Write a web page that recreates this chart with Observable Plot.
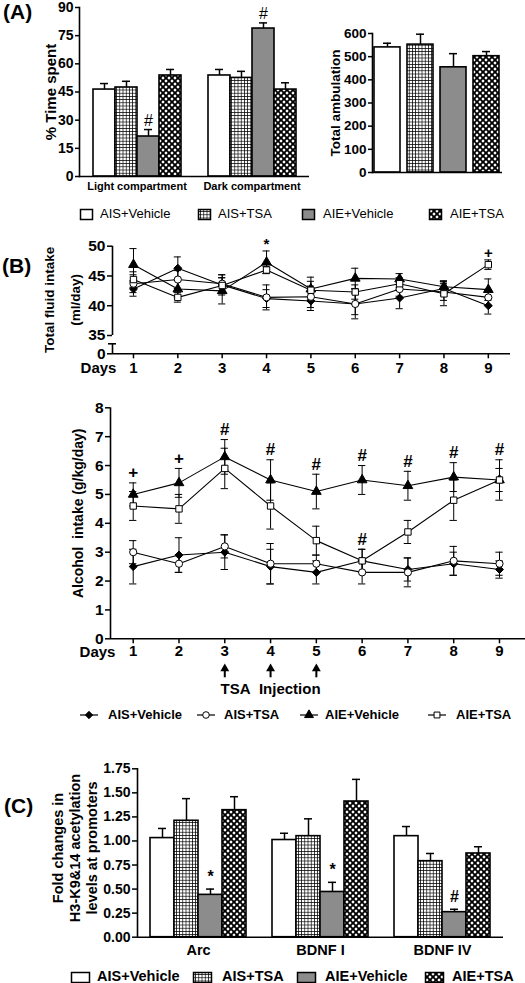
<!DOCTYPE html>
<html><head><meta charset="utf-8">
<script src="https://cdn.jsdelivr.net/npm/d3@7"></script>
<script src="https://cdn.jsdelivr.net/npm/@observablehq/plot@0.6"></script>
<style>
html,body{margin:0;padding:0;background:#fff;}
#page{position:relative;width:525px;height:983px;overflow:hidden;font-family:'Liberation Sans',Arial,sans-serif;color:#000;background:#fff;}
.plab{position:absolute;font-size:21px;font-weight:bold;line-height:1;}
.ltxt{position:absolute;white-space:nowrap;line-height:1;}
.lsw{position:absolute;}
</style></head><body>
<div id="page">
<svg width="0" height="0" style="position:absolute">
 <defs>
  <pattern id="pGrid" width="3.2" height="3.2" patternUnits="userSpaceOnUse">
    <rect width="3.2" height="3.2" fill="#fff"/>
    <path d="M0 0.35H3.2M0.35 0V3.2" stroke="#000" stroke-width="0.75"/>
  </pattern>
  <pattern id="pDots" width="6" height="6" patternUnits="userSpaceOnUse">
    <rect width="6" height="6" fill="#000"/>
    <path d="M0 -1.7L1.7 0L0 1.7L-1.7 0Z M6 -1.7L7.7 0L6 1.7L4.3 0Z M0 4.3L1.7 6L0 7.7L-1.7 6Z M6 4.3L7.7 6L6 7.7L4.3 6Z M3 1.3L4.7 3L3 4.7L1.3 3Z" fill="#fff"/>
  </pattern>
 </defs>
</svg>
</div>
<script>
// ---------- data ----------
const seriesNames = ["AIS+Vehicle", "AIS+TSA", "AIE+Vehicle", "AIE+TSA"];

// Panel A
const compartments = ["Light compartment", "Dark compartment"];
const timeLight = [46.3, 47.4, 21.3, 53.8];
const timeLightErr = [3.2, 3.3, 3.7, 3.2];
const timeLightSig = ["", "", "#", ""];
const timeDark = [53.8, 52.5, 78.8, 46.3];
const timeDarkErr = [3.2, 3.5, 3.0, 3.6];
const timeDarkSig = ["", "", "#", ""];
const timeTicks = [0, 15, 30, 45, 60, 75, 90];
const ambulation = [540, 552, 454, 502];
const ambulationErr = [18, 45, 59, 20];
const ambulationTicks = [0, 100, 200, 300, 400, 500, 600];

// Panel B
const days = [1, 2, 3, 4, 5, 6, 7, 8, 9];
const fluidAISVehicle = [42.8, 46.3, 43.5, 41.2, 40.8, 40.3, 41.3, 42.9, 40.0];
const fluidAISVehicleErr = [1.2, 1.9, 1.7, 1.5, 1.6, 2.5, 1.8, 1.2, 1.4];
const fluidAISTSA = [43.7, 44.4, 43.7, 41.4, 41.5, 40.3, 42.8, 42.3, 41.4];
const fluidAISTSAErr = [1.5, 1.5, 1.5, 2.1, 1.8, 1.8, 1.2, 1.4, 1.3];
const fluidAIEVehicle = [46.9, 42.8, 42.5, 47.3, 42.8, 44.6, 44.5, 43.2, 42.7];
const fluidAIEVehicleErr = [2.7, 1.5, 2.2, 1.9, 2.0, 1.7, 0.9, 1.0, 1.8];
const fluidAIETSA = [44.4, 41.4, 43.4, 46.0, 42.6, 42.3, 43.7, 42.0, 46.9];
const fluidAIETSAErr = [1.3, 0.8, 1.3, 0.6, 1.5, 1.2, 1.0, 2.0, 0.8];
const fluidTicks = [35, 40, 45, 50];
const fluidZeroLabel = "0";
const fluidSigDays = [4, 9];
const fluidSigSeries = ["AIE+Vehicle", "AIE+TSA"];
const fluidSigMarks = ["*", "+"];

const alcAISVehicle = [2.5, 2.9, 3.0, 2.5, 2.3, 2.7, 2.4, 2.6, 2.4];
const alcAISVehicleErr = [0.6, 0.6, 0.6, 0.6, 0.4, 0.4, 0.4, 0.4, 0.3];
const alcAISTSA = [3.0, 2.6, 3.2, 2.6, 2.6, 2.3, 2.3, 2.7, 2.6];
const alcAISTSAErr = [0.4, 0.3, 0.4, 0.7, 0.3, 0.4, 0.5, 0.5, 0.4];
const alcAIEVehicle = [5.0, 5.4, 6.3, 5.5, 5.1, 5.5, 5.3, 5.6, 5.5];
const alcAIEVehicleErr = [0.4, 0.5, 0.6, 0.7, 0.6, 0.5, 0.5, 0.5, 0.7];
const alcAIETSA = [4.6, 4.5, 5.9, 4.6, 3.4, 2.7, 3.7, 4.8, 5.5];
const alcAIETSAErr = [0.5, 0.5, 0.7, 0.8, 0.5, 0.4, 0.4, 0.7, 0.4];
const alcTicks = [0, 1, 2, 3, 4, 5, 6, 7, 8];
const alcSigDays = [1, 2, 3, 4, 5, 6, 7, 8, 9, 6];
const alcSigSeries = ["AIE+Vehicle","AIE+Vehicle","AIE+Vehicle","AIE+Vehicle","AIE+Vehicle","AIE+Vehicle","AIE+Vehicle","AIE+Vehicle","AIE+Vehicle","AIE+TSA"];
const alcSigMarks = ["+", "+", "#", "#", "#", "#", "#", "#", "#", "#"];
const injectionDays = [3, 4, 5];

// Panel C
const promoters = ["Arc", "BDNF I", "BDNF IV"];
const acetylArc = [1.03, 1.21, 0.44, 1.32];
const acetylArcErr = [0.10, 0.23, 0.06, 0.14];
const acetylArcSig = ["", "", "*", ""];
const acetylBDNF1 = [1.01, 1.05, 0.47, 1.41];
const acetylBDNF1Err = [0.07, 0.18, 0.10, 0.23];
const acetylBDNF1Sig = ["", "", "*", ""];
const acetylBDNF4 = [1.05, 0.79, 0.26, 0.87];
const acetylBDNF4Err = [0.10, 0.08, 0.03, 0.07];
const acetylBDNF4Sig = ["", "", "#", ""];
const acetylTicks = [0, 0.25, 0.5, 0.75, 1.0, 1.25, 1.5, 1.75];

// ---------- styles ----------
const FONT = "'Liberation Sans', Arial, sans-serif";
const seriesFill = ["#fff", "url(#pGrid)", "#8c8c8c", "url(#pDots)"];
const seriesSymbol = ["diamond2", "circle", "triangle", "square"];
const seriesSymbolFill = ["#000", "#fff", "#000", "#fff"];
const baseStyle = {fontFamily: FONT, fontWeight: "bold", fontSize: "14px", color: "#000", background: "none", overflow: "visible"};
const page = document.getElementById("page");
const fillOf = d => seriesFill[seriesNames.indexOf(d.series)];
const symFillOf = d => seriesSymbolFill[seriesNames.indexOf(d.series)];
const lbl = {text: d => d, textAnchor: "middle", lineAnchor: "middle"};

function place(el, left, top) {
  el.style.position = "absolute";
  el.style.left = left + "px";
  el.style.top = top + "px";
  page.appendChild(el);
}
function grouped(groups, vals, errs, sigs) {
  return groups.flatMap((g, gi) => seriesNames.map((s, si) => ({group: g, series: s, value: vals[gi][si], err: errs[gi][si], sig: sigs[gi][si]})));
}
function lines(vals, errs) {
  return seriesNames.flatMap((s, si) => days.map((d, di) => ({series: s, day: d, value: vals[si][di], err: errs[si][di]})));
}
function sigRows(rows, sd, ss, sm) {
  return sd.map((d, i) => {
    const r = rows.find(r => r.day === d && r.series === ss[i]);
    return {day: d, y: r.value + r.err, mark: sm[i]};
  });
}

// ---------- Panel A left ----------
const rowsA = grouped(compartments, [timeLight, timeDark], [timeLightErr, timeDarkErr], [timeLightSig, timeDarkSig]);
const plotA1 = Plot.plot({
  width: 315, height: 200, marginLeft: 78, marginRight: 6, marginTop: 7, marginBottom: 24,
  style: baseStyle,
  fx: {domain: compartments, padding: 0, axis: null},
  x: {domain: seriesNames, paddingInner: 0, paddingOuter: 0.6, axis: null},
  y: {domain: [0, 90], axis: null},
  color: {type: "identity"},
  marks: [
    Plot.ruleX(rowsA, {fx: "group", x: "series", y1: "value", y2: d => d.value + d.err, strokeWidth: 1.5}),
    Plot.tickY(rowsA, {fx: "group", x: "series", y: d => d.value + d.err, insetLeft: 7, insetRight: 7, strokeWidth: 1.5}),
    Plot.barY(rowsA, {fx: "group", x: "series", y: "value", fill: fillOf, stroke: "#000", strokeWidth: 1.6}),
    Plot.ruleY([0], {strokeWidth: 1.6}),
    Plot.frame({anchor: "left", facetAnchor: "left", strokeWidth: 1.6}),
    Plot.text(rowsA.filter(d => d.sig), {fx: "group", x: "series", y: d => d.value + d.err, text: "sig", dy: -9, fontSize: 16, fontWeight: "normal"}),
    Plot.axisY({ticks: timeTicks, tickSize: 4, tickPadding: 2, fontSize: 14, strokeWidth: 1.5, label: null}),
    Plot.axisFx({anchor: "bottom", tickSize: 0, tickPadding: 6, fontSize: 11, label: null}),
    Plot.text(["% Time spent"], {...lbl, frameAnchor: "left", facetAnchor: "left", rotate: -90, dx: -28, fontSize: 15})
  ]
});
place(plotA1, 0, 0);

// ---------- Panel A right ----------
const rowsAmb = seriesNames.map((s, i) => ({series: s, value: ambulation[i], err: ambulationErr[i]}));
const plotA2 = Plot.plot({
  width: 225, height: 200, marginLeft: 72, marginRight: 23, marginTop: 33, marginBottom: 28,
  style: baseStyle,
  x: {domain: seriesNames, paddingInner: 0.2, paddingOuter: 0.05, axis: null},
  y: {domain: [0, 600], axis: null},
  color: {type: "identity"},
  marks: [
    Plot.ruleX(rowsAmb, {x: "series", y1: "value", y2: d => d.value + d.err, strokeWidth: 1.5}),
    Plot.tickY(rowsAmb, {x: "series", y: d => d.value + d.err, insetLeft: 9, insetRight: 9, strokeWidth: 1.5}),
    Plot.barY(rowsAmb, {x: "series", y: "value", fill: fillOf, stroke: "#000", strokeWidth: 1.6}),
    Plot.ruleY([0], {strokeWidth: 1.6}),
    Plot.frame({anchor: "left", strokeWidth: 1.6}),
    Plot.axisY({ticks: ambulationTicks, tickSize: 4, tickPadding: 2, fontSize: 13.5, strokeWidth: 1.5, label: null}),
    Plot.text(["Total ambulation"], {...lbl, frameAnchor: "left", rotate: -90, dx: -37, fontSize: 13.5})
  ]
});
place(plotA2, 300, 0);

// ---------- shared line-chart marks ----------
function lineMarks(rows, capW) {
  return [
    Plot.ruleX(rows, {x: "day", y1: d => d.value - d.err, y2: d => d.value + d.err, strokeWidth: 1}),
    Plot.ruleY(rows, {y: d => d.value + d.err, x1: d => d.day - capW, x2: d => d.day + capW, strokeWidth: 1}),
    Plot.ruleY(rows, {y: d => d.value - d.err, x1: d => d.day - capW, x2: d => d.day + capW, strokeWidth: 1}),
    Plot.line(rows, {x: "day", y: "value", z: "series", stroke: "#000", strokeWidth: 1.1}),
    Plot.dot(rows, {x: "day", y: "value", symbol: "series", fill: symFillOf, stroke: "#000", strokeWidth: 1, r: 3.6})
  ];
}

// ---------- Panel B top (broken axis: 0 | 35–50) ----------
const rowsFluid = lines([fluidAISVehicle, fluidAISTSA, fluidAIEVehicle, fluidAIETSA],
                        [fluidAISVehicleErr, fluidAISTSAErr, fluidAIEVehicleErr, fluidAIETSAErr]);
const xB1 = [0.527, 9.5];
// frame = the 35–50 part; the axis break and the 0 baseline sit `gap` px below it
const B1 = {h: 150, top: 15.7, bottom: 45, gap: 18.3};
const B1fh = B1.h - B1.top - B1.bottom;
const plotB1 = Plot.plot({
  width: 525, height: B1.h, marginLeft: 112, marginRight: 15, marginTop: B1.top, marginBottom: B1.bottom,
  style: baseStyle,
  x: {domain: xB1, axis: null},
  y: {domain: [35, 50], axis: null},
  symbol: {domain: seriesNames, range: seriesSymbol},
  color: {type: "identity"},
  marks: [
    Plot.ruleX([xB1[0]], {y1: 35, y2: 50, strokeWidth: 1.6}),
    Plot.ruleX([xB1[0]], {insetTop: B1fh + B1.gap - 10, insetBottom: -B1.gap, strokeWidth: 1.6}),
    Plot.ruleY([35], {x1: xB1[0] - 0.09, x2: xB1[0] + 0.09, dy: B1.gap - 10, strokeWidth: 1.6}),
    Plot.ruleY([35], {x1: xB1[0] - 0.113, x2: xB1[0], dy: B1.gap, strokeWidth: 1.5}),
    Plot.ruleY([35], {dy: B1.gap, strokeWidth: 1.6}),
    Plot.ruleX(days, {x: d => d, insetTop: B1fh + B1.gap, insetBottom: -(B1.gap + 5), strokeWidth: 1.5}),
    ...lineMarks(rowsFluid, 0.08),
    Plot.text(sigRows(rowsFluid, fluidSigDays, fluidSigSeries, fluidSigMarks), {x: "day", y: "y", text: "mark", dy: -7, fontSize: 15}),
    Plot.axisY({ticks: fluidTicks, tickSize: 5, tickPadding: 2, fontSize: 15.5, strokeWidth: 1.5, label: null}),
    Plot.text([fluidZeroLabel], {text: d => d, frameAnchor: "bottom-left", textAnchor: "end", lineAnchor: "middle", dx: -7, dy: B1.gap, fontSize: 15.5}),
    Plot.text(days, {x: d => d, text: d => String(d), frameAnchor: "bottom", lineAnchor: "middle", dy: B1.gap + 14.7, fontSize: 15}),
    Plot.text(["Days"], {...lbl, frameAnchor: "bottom-left", dx: -14, dy: B1.gap + 14.7, fontSize: 15}),
    Plot.text(["Total fluid intake"], {...lbl, frameAnchor: "left", rotate: -90, dx: -63, dy: 9, fontSize: 13.5}),
    Plot.text(["(ml/day)"], {...lbl, frameAnchor: "left", rotate: -90, dx: -37, dy: 9, fontSize: 13.5})
  ]
});
place(plotB1, 0, 230);

// ---------- Panel B bottom ----------
const rowsAlc = lines([alcAISVehicle, alcAISTSA, alcAIEVehicle, alcAIETSA],
                      [alcAISVehicleErr, alcAISTSAErr, alcAIEVehicleErr, alcAIETSAErr]);
const xB2 = [0.504, 9.568];
const plotB2 = Plot.plot({
  width: 525, height: 305, marginLeft: 110, marginRight: 0, marginTop: 12.3, marginBottom: 61.7,
  style: baseStyle,
  x: {domain: xB2, axis: null},
  y: {domain: [0, 8], axis: null},
  symbol: {domain: seriesNames, range: seriesSymbol},
  color: {type: "identity"},
  marks: [
    Plot.ruleX([xB2[0]], {y1: 0, y2: 8, strokeWidth: 1.6}),
    Plot.ruleY([0], {strokeWidth: 1.6}),
    ...lineMarks(rowsAlc, 0.08),
    Plot.text(sigRows(rowsAlc, alcSigDays, alcSigSeries, alcSigMarks), {x: "day", y: "y", text: "mark", dy: -10, fontSize: 17}),
    Plot.axisY({ticks: alcTicks, tickSize: 5, tickPadding: 2, fontSize: 15.5, strokeWidth: 1.5, label: null}),
    Plot.axisX({ticks: days, tickSize: 5, tickPadding: 2, fontSize: 15, strokeWidth: 1.5, label: null}),
    Plot.text(["Days"], {...lbl, frameAnchor: "bottom-left", dx: -13, dy: 13.7, fontSize: 15}),
    Plot.ruleX(injectionDays, {x: d => d, y1: 0, y2: 0.35, dy: 39, strokeWidth: 2}),
    Plot.dot(injectionDays, {x: d => d, y: 0.35, dy: 40, symbol: "triangle", r: 3.3, fill: "#000", stroke: "none"}),
    Plot.text(["TSA\u00a0\u00a0Injection"], {...lbl, x: d3.mean(injectionDays), frameAnchor: "bottom", dy: 50.7, fontSize: 15}),
    Plot.text(["Alcohol\u00a0 intake (g/kg/day)"], {...lbl, frameAnchor: "left", rotate: -90, dx: -32, dy: -10, fontSize: 14})
  ]
});
place(plotB2, 0, 395);

// ---------- Panel C ----------
const rowsC = grouped(promoters, [acetylArc, acetylBDNF1, acetylBDNF4], [acetylArcErr, acetylBDNF1Err, acetylBDNF4Err], [acetylArcSig, acetylBDNF1Sig, acetylBDNF4Sig]);
const plotC = Plot.plot({
  width: 525, height: 205, marginLeft: 137, marginRight: 22, marginTop: 13.3, marginBottom: 23.3,
  style: baseStyle,
  fx: {domain: promoters, padding: 0, axis: null},
  x: {domain: seriesNames, paddingInner: 0, paddingOuter: 0.45, axis: null},
  y: {domain: [0, 1.75], axis: null},
  color: {type: "identity"},
  marks: [
    Plot.ruleX(rowsC, {fx: "group", x: "series", y1: "value", y2: d => d.value + d.err, strokeWidth: 1.5}),
    Plot.tickY(rowsC, {fx: "group", x: "series", y: d => d.value + d.err, insetLeft: 8, insetRight: 8, strokeWidth: 1.5}),
    Plot.barY(rowsC, {fx: "group", x: "series", y: "value", fill: fillOf, stroke: "#000", strokeWidth: 1.6}),
    Plot.ruleY([0], {strokeWidth: 1.6}),
    Plot.frame({anchor: "left", facetAnchor: "left", strokeWidth: 1.6}),
    Plot.text(rowsC.filter(d => d.sig), {fx: "group", x: "series", y: d => d.value + d.err, text: "sig", dy: -12, fontSize: 16}),
    Plot.axisY({ticks: acetylTicks, tickFormat: d3.format(".2f"), tickSize: 5, tickPadding: 2, fontSize: 14, strokeWidth: 1.5, label: null}),
    Plot.axisFx({anchor: "bottom", tickSize: 0, tickPadding: 8, fontSize: 14.5, label: null}),
    Plot.text(["Fold changes in\nH3-K9&14 acetylation\nlevels at promoters"], {...lbl, frameAnchor: "left", facetAnchor: "left", rotate: -90, dx: -63, dy: -5, lineHeight: 1.2, fontSize: 14.5})
  ]
});
place(plotC, 0, 755);

// ---------- panel labels ----------
[["(A)", 3, 1], ["(B)", 2, 255], ["(C)", 4, 795]].forEach(([t, l, tp]) => {
  const d = document.createElement("div");
  d.className = "plab"; d.textContent = t;
  place(d, l, tp);
});

// ---------- legends ----------
const NS = "http://www.w3.org/2000/svg";
function boxLegend(cy, boxLefts, textLefts, bw, bh, fontSize, weight) {
  seriesNames.forEach((s, i) => {
    const sv = document.createElementNS(NS, "svg");
    sv.setAttribute("width", bw + 3); sv.setAttribute("height", bh + 3);
    sv.setAttribute("class", "lsw");
    const r = document.createElementNS(NS, "rect");
    r.setAttribute("x", 1.5); r.setAttribute("y", 1.5);
    r.setAttribute("width", bw); r.setAttribute("height", bh);
    r.setAttribute("fill", seriesFill[i]); r.setAttribute("stroke", "#000"); r.setAttribute("stroke-width", 1.5);
    sv.appendChild(r);
    place(sv, boxLefts[i] - 1.5, cy - bh / 2 - 1.5);
    const t = document.createElement("div");
    t.className = "ltxt"; t.textContent = s;
    t.style.fontSize = fontSize + "px"; t.style.fontWeight = weight;
    place(t, textLefts[i], cy - fontSize * 0.52);
  });
}
const d3Sym = {diamond2: d3.symbolDiamond2, circle: d3.symbolCircle, triangle: d3.symbolTriangle, square: d3.symbolSquare};
function lineLegend(cy, lineLefts, textLefts, fontSize) {
  seriesNames.forEach((s, i) => {
    const w = 20, h = 12;
    const sv = document.createElementNS(NS, "svg");
    sv.setAttribute("width", w); sv.setAttribute("height", h);
    const ln = document.createElementNS(NS, "line");
    ln.setAttribute("x1", 1); ln.setAttribute("x2", w - 1); ln.setAttribute("y1", h / 2); ln.setAttribute("y2", h / 2);
    ln.setAttribute("stroke", "#000"); ln.setAttribute("stroke-width", 1.2);
    sv.appendChild(ln);
    const p = document.createElementNS(NS, "path");
    p.setAttribute("d", d3.symbol(d3Sym[seriesSymbol[i]], Math.PI * 3.3 * 3.3)());
    p.setAttribute("transform", `translate(${w / 2},${h / 2})`);
    p.setAttribute("fill", seriesSymbolFill[i]); p.setAttribute("stroke", "#000");
    sv.appendChild(p);
    place(sv, lineLefts[i], cy - h / 2);
    const t = document.createElement("div");
    t.className = "ltxt"; t.textContent = s;
    t.style.fontSize = fontSize + "px"; t.style.fontWeight = "bold";
    place(t, textLefts[i], cy - fontSize * 0.52);
  });
}
boxLegend(214, [80, 198, 302, 429], [100, 218, 323, 450], 12, 10, 13, "normal");
lineLegend(715, [79, 196, 299, 427], [108, 224, 325, 456], 13);
boxLegend(977, [71, 193, 297, 425], [97, 222, 325, 452], 18, 10, 14.5, "bold");
</script>
</body></html>
